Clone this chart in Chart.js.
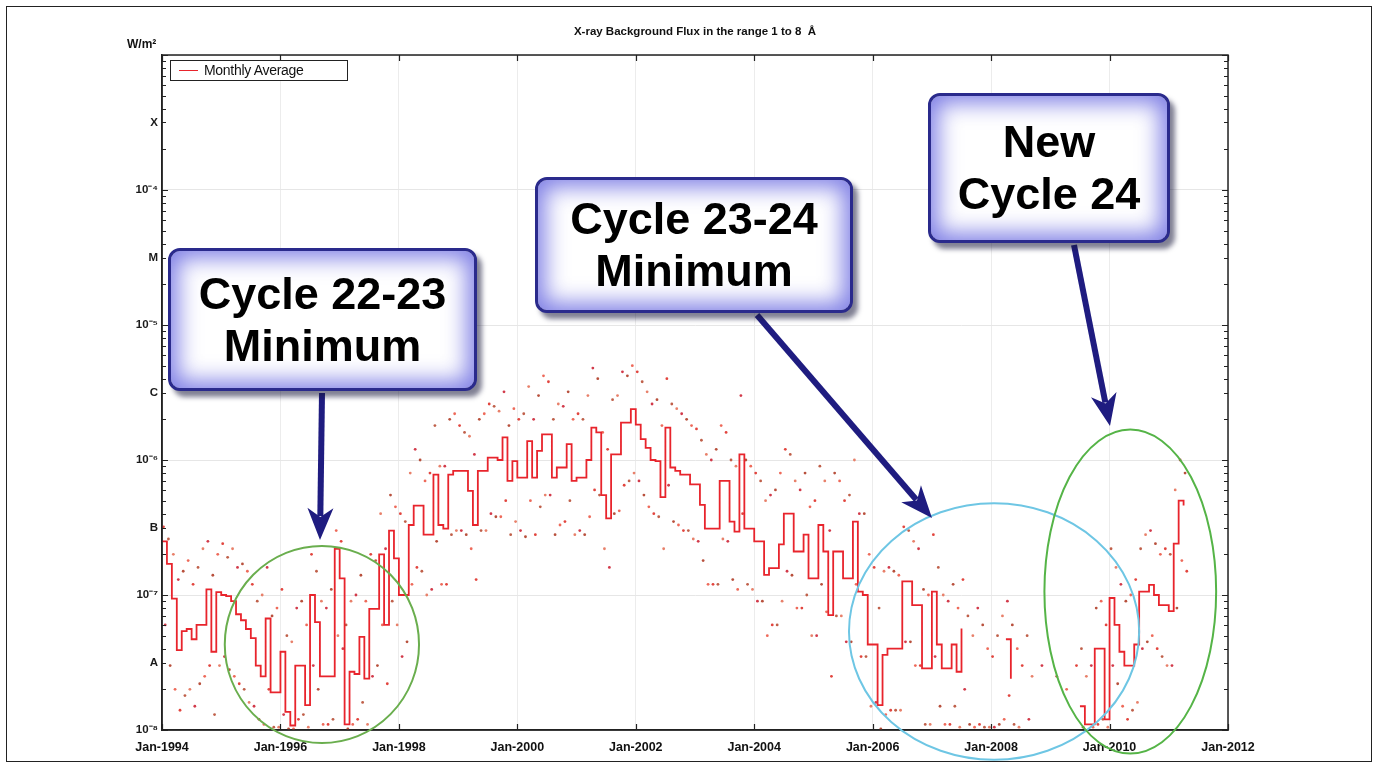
<!DOCTYPE html>
<html>
<head>
<meta charset="utf-8">
<script src="https://cdn.jsdelivr.net/npm/chart.js@4.4.1/dist/chart.umd.min.js"></script>
<style>
  html, body { margin: 0; padding: 0; background: #fff; }
  #wrap { position: relative; width: 1380px; height: 770px; overflow: hidden; font-family: "Liberation Sans", Arial, sans-serif; }
  #flux { position: absolute; left: 0; top: 0; }
  #frame { position: absolute; left: 6px; top: 6px; width: 1366px; height: 756px; border: 1.5px solid #222; box-sizing: border-box; pointer-events: none; }
  .title { position: absolute; left: 0; top: 25px; width: 1390px; text-align: center; font-weight: bold; font-size: 11.5px; color: #111; }
  .unit { position: absolute; left: 127px; top: 37px; font-weight: bold; font-size: 12px; color: #111; }
  .legend { position: absolute; left: 170px; top: 60px; width: 178px; height: 21px; box-sizing: border-box; border: 1.5px solid #222; background: #fff; font-size: 14px; color: #111; line-height: 18px; }
  .legend i { position: absolute; left: 8px; top: 9px; width: 19px; height: 0; border-top: 1.5px solid #e8242c; }
  .legend span { position: absolute; left: 33px; top: 0; letter-spacing: -0.3px; }
  .callout { position: absolute; box-sizing: border-box; border: 3px solid #2a2a8c; border-radius: 12px; background: #fff;
    box-shadow: inset 0 0 22px 7px rgba(105, 105, 225, 0.85), 5px 6px 5px rgba(25, 25, 60, 0.55);
    font-weight: bold; font-size: 45px; line-height: 52px; color: #000; text-align: center;
    display: flex; flex-direction: column; justify-content: center; }
</style>
</head>
<body>
<div id="wrap">
  <canvas id="flux" width="1380" height="770"></canvas>
  <div class="title">X-ray Background Flux in the range 1 to 8 &nbsp;Å</div>
  <div class="unit">W/m²</div>
  <div class="legend"><i></i><span>Monthly Average</span></div>
  <div class="callout" style="left:168px; top:248px; width:309px; height:143px;"><div>Cycle 22-23</div><div>Minimum</div></div>
  <div class="callout" style="left:535px; top:177px; width:318px; height:136px;"><div>Cycle 23-24</div><div>Minimum</div></div>
  <div class="callout" style="left:928px; top:93px; width:242px; height:150px;"><div>New</div><div>Cycle 24</div></div>
  <div id="frame"></div>
</div>
<script>
// 1-8 A background flux (W/m2), one entry per month from Jan 1994
const startYear = 1994;
const monthlyAverage = [
  // 1994
  2.5e-7, 1.7e-7, 9.4e-8, 3.9e-8, 5.4e-8, 5.6e-8, 4.7e-8, 6.0e-8, 6.0e-8, 1.1e-7, 3.8e-8, 1.05e-7,
  // 1995
  1.0e-7, 9.8e-8, 9.0e-8, 7.2e-8, 6.5e-8, 5.6e-8, 4.8e-8, 3.0e-8, 2.5e-8, 6.7e-8, 1.9e-8, 1.9e-8,
  // 1996
  3.8e-8, 1.36e-8, 1.08e-8, 3.0e-8, 3.0e-8, 1.53e-8, 1.0e-7, 6.3e-8, 2.5e-8, 2.5e-8, 2.5e-8, 2.2e-7,
  // 1997
  1.33e-7, 1.1e-8, 2.7e-8, 2.6e-8, 4.9e-8, 2.4e-8, 7.9e-8, 7.9e-8, 2.0e-7, 6.0e-8, 3.0e-7, 1.87e-7,
  // 1998
  1.0e-7, 1.0e-7, 3.3e-7, 4.6e-7, 4.6e-7, 2.8e-7, 2.8e-7, 7.8e-7, 3.3e-7, 3.1e-7, 7.8e-7, 8.3e-7,
  // 1999
  8.3e-7, 8.3e-7, 5.9e-7, 3.3e-7, 8.3e-7, 8.3e-7, 1.04e-6, 1.04e-6, 1.0e-6, 1.47e-6, 7.0e-7, 9.8e-7,
  // 2000
  7.4e-7, 7.4e-7, 1.38e-6, 7.4e-7, 1.17e-6, 1.55e-6, 1.55e-6, 7.4e-7, 8.8e-7, 8.8e-7, 1.31e-6, 7.0e-7,
  // 2001
  7.4e-7, 7.4e-7, 1.0e-6, 1.74e-6, 1.6e-6, 5.5e-7, 3.7e-7, 1.1e-6, 1.1e-6, 1.89e-6, 1.89e-6, 2.38e-6,
  // 2002
  1.83e-6, 1.43e-6, 1.23e-6, 1.0e-6, 9.8e-7, 5.3e-7, 1.74e-6, 8.8e-7, 8.3e-7, 7.8e-7, 7.8e-7, 6.6e-7,
  // 2003
  6.6e-7, 4.65e-7, 3.1e-7, 3.1e-7, 3.1e-7, 7.0e-7, 7.0e-7, 3.5e-7, 2.95e-7, 1.1e-6, 3.1e-7, 3.1e-7,
  // 2004
  2.5e-7, 2.5e-7, 1.41e-7, 1.58e-7, 1.58e-7, 2.37e-7, 4.0e-7, 4.0e-7, 2.1e-7, 2.1e-7, 2.8e-7, 1.33e-7,
  // 2005
  1.33e-7, 3.3e-7, 2.1e-7, 7.1e-8, 2.1e-7, 2.1e-7, 1.33e-7, 1.33e-7, 3.5e-7, 1.06e-7, 1.0e-7, 4.3e-8,
  // 2006
  4.3e-8, 1.53e-8, 3.6e-8, 4.0e-8, 4.0e-8, 4.0e-8, 1.26e-7, 1.26e-7, 8.4e-8, 8.4e-8, 2.86e-8, 2.86e-8,
  // 2007
  1.06e-7, 4.3e-8, 2.86e-8, 2.86e-8, 4.3e-8, 2.7e-8, 5.65e-8, null, null, null, null, null,
  // 2008
  null, null, null, 4.7e-8, 2.4e-8, null, null, null, null, null, null, null,
  // 2009
  null, null, null, null, null, null, 1.5e-8, 1.1e-8, 1.1e-8, 4.0e-8, 4.0e-8, 1.2e-8,
  // 2010
  9.5e-8, 6.0e-8, 3.8e-8, 3.0e-8, 3.0e-8, 4.3e-8, 1.06e-7, 1.06e-7, 1.19e-7, 1.0e-7, 8.4e-8, 8.4e-8,
  // 2011
  7.6e-8, 2.4e-7, 5.0e-7, 4.6e-7
];

// upper and lower edge of the daily values in each month
const dailyHigh = [
  3.2e-7, 2.6e-7, 2.0e-7, 1.3e-7, 1.5e-7, 1.8e-7, 1.2e-7, 1.6e-7, 2.2e-7, 2.5e-7, 1.4e-7, 2.0e-7,
  2.4e-7, 1.9e-7, 2.2e-7, 1.6e-7, 1.7e-7, 1.5e-7, 1.2e-7, 9.0e-8, 1.0e-7, 1.6e-7, 7.0e-8, 8.0e-8,
  1.1e-7, 5.0e-8, 4.5e-8, 8.0e-8, 9.0e-8, 6.0e-8, 2.0e-7, 1.5e-7, 9.0e-8, 8.0e-8, 1.1e-7, 3.0e-7,
  2.5e-7, 6.0e-8, 9.0e-8, 1.0e-7, 1.4e-7, 9.0e-8, 2.0e-7, 1.8e-7, 4.0e-7, 2.2e-7, 5.5e-7, 4.5e-7,
  4.0e-7, 3.5e-7, 8.0e-7, 1.2e-6, 1.0e-6, 7.0e-7, 8.0e-7, 1.8e-6, 9.0e-7, 9.0e-7, 2.0e-6, 2.2e-6,
  1.8e-6, 1.6e-6, 1.5e-6, 1.1e-6, 2.0e-6, 2.2e-6, 2.6e-6, 2.5e-6, 2.3e-6, 3.2e-6, 1.8e-6, 2.4e-6,
  2.0e-6, 2.2e-6, 3.5e-6, 2.0e-6, 3.0e-6, 4.2e-6, 3.8e-6, 2.0e-6, 2.6e-6, 2.5e-6, 3.2e-6, 2.0e-6,
  2.2e-6, 2.0e-6, 3.0e-6, 4.8e-6, 4.0e-6, 1.6e-6, 1.2e-6, 2.8e-6, 3.0e-6, 4.5e-6, 4.2e-6, 5.0e-6,
  4.5e-6, 3.8e-6, 3.2e-6, 2.6e-6, 2.8e-6, 1.8e-6, 4.0e-6, 2.6e-6, 2.4e-6, 2.2e-6, 2.0e-6, 1.8e-6,
  1.7e-6, 1.4e-6, 1.1e-6, 1.0e-6, 1.2e-6, 1.8e-6, 1.6e-6, 1.0e-6, 9.0e-7, 3.0e-6, 1.0e-6, 9.0e-7,
  8.0e-7, 7.0e-7, 5.0e-7, 5.5e-7, 6.0e-7, 8.0e-7, 1.2e-6, 1.1e-6, 7.0e-7, 6.0e-7, 8.0e-7, 4.5e-7,
  5.0e-7, 9.0e-7, 7.0e-7, 3.0e-7, 8.0e-7, 7.0e-7, 5.0e-7, 5.5e-7, 1.0e-6, 4.0e-7, 4.0e-7, 2.0e-7,
  1.6e-7, 8.0e-8, 1.5e-7, 1.6e-7, 1.5e-7, 1.4e-7, 3.2e-7, 3.0e-7, 2.5e-7, 2.2e-7, 1.1e-7, 1.0e-7,
  2.8e-7, 1.6e-7, 1.0e-7, 9.0e-8, 1.2e-7, 8.0e-8, 1.3e-7, 7.0e-8, 5.0e-8, 8.0e-8, 6.0e-8, 4.0e-8,
  3.5e-8, 5.0e-8, 7.0e-8, 9.0e-8, 6.0e-8, 4.0e-8, 3.0e-8, 5.0e-8, 2.5e-8, null, 3.0e-8, null,
  null, 2.5e-8, null, 2.0e-8, null, 3.0e-8, 4.0e-8, 2.5e-8, 3.0e-8, 8.0e-8, 9.0e-8, 6.0e-8,
  2.2e-7, 1.6e-7, 1.2e-7, 9.0e-8, 1.0e-7, 1.3e-7, 2.2e-7, 2.8e-7, 3.0e-7, 2.4e-7, 2.0e-7, 2.2e-7,
  2.0e-7, 6.0e-7, 1.0e-6, 8.0e-7
];
const dailyLow = [
  6.0e-8, 3.0e-8, 2.0e-8, 1.4e-8, 1.8e-8, 2.0e-8, 1.5e-8, 2.2e-8, 2.5e-8, 3.0e-8, 1.3e-8, 3.0e-8,
  3.5e-8, 2.8e-8, 2.5e-8, 2.2e-8, 2.0e-8, 1.6e-8, 1.5e-8, 1.2e-8, 1.1e-8, 2.0e-8, 1.05e-8, 1.05e-8,
  1.3e-8, 1.02e-8, 1.02e-8, 1.2e-8, 1.3e-8, 1.05e-8, 3.0e-8, 2.0e-8, 1.1e-8, 1.1e-8, 1.2e-8, 5.0e-8,
  4.0e-8, 1.02e-8, 1.1e-8, 1.2e-8, 1.6e-8, 1.1e-8, 2.5e-8, 3.0e-8, 6.0e-8, 2.2e-8, 9.0e-8, 6.0e-8,
  3.5e-8, 4.5e-8, 1.2e-7, 1.6e-7, 1.5e-7, 1.0e-7, 1.1e-7, 2.5e-7, 1.2e-7, 1.2e-7, 2.8e-7, 3.0e-7,
  3.0e-7, 2.8e-7, 2.2e-7, 1.3e-7, 3.0e-7, 3.0e-7, 4.0e-7, 3.8e-7, 3.8e-7, 5.0e-7, 2.8e-7, 3.5e-7,
  3.0e-7, 2.7e-7, 5.0e-7, 2.8e-7, 4.5e-7, 5.5e-7, 5.5e-7, 2.8e-7, 3.3e-7, 3.5e-7, 5.0e-7, 2.8e-7,
  3.0e-7, 2.8e-7, 3.8e-7, 6.0e-7, 5.5e-7, 2.2e-7, 1.6e-7, 4.0e-7, 4.2e-7, 6.5e-7, 7.0e-7, 8.0e-7,
  7.0e-7, 5.5e-7, 4.5e-7, 4.0e-7, 3.8e-7, 2.2e-7, 6.5e-7, 3.5e-7, 3.3e-7, 3.0e-7, 3.0e-7, 2.6e-7,
  2.5e-7, 1.8e-7, 1.2e-7, 1.2e-7, 1.2e-7, 2.6e-7, 2.5e-7, 1.3e-7, 1.1e-7, 4.0e-7, 1.2e-7, 1.1e-7,
  9.0e-8, 9.0e-8, 5.0e-8, 6.0e-8, 6.0e-8, 9.0e-8, 1.5e-7, 1.4e-7, 8.0e-8, 8.0e-8, 1.0e-7, 5.0e-8,
  5.0e-8, 1.2e-7, 7.5e-8, 2.5e-8, 7.0e-8, 7.0e-8, 4.5e-8, 4.5e-8, 1.2e-7, 3.5e-8, 3.5e-8, 1.5e-8,
  1.6e-8, 1.02e-8, 1.3e-8, 1.4e-8, 1.4e-8, 1.4e-8, 4.5e-8, 4.5e-8, 3.0e-8, 3.0e-8, 1.1e-8, 1.1e-8,
  3.5e-8, 1.5e-8, 1.1e-8, 1.1e-8, 1.5e-8, 1.05e-8, 2.0e-8, 1.1e-8, 1.05e-8, 1.1e-8, 1.05e-8, 1.05e-8,
  1.05e-8, 1.1e-8, 1.2e-8, 1.8e-8, 1.1e-8, 1.05e-8, null, 1.2e-8, null, null, null, null,
  null, null, null, null, null, null, 1.05e-8, null, 1.05e-8, 1.1e-8, 1.2e-8, 1.05e-8,
  3.0e-8, 2.2e-8, 1.5e-8, 1.2e-8, 1.4e-8, 1.6e-8, 4.0e-8, 4.5e-8, 5.0e-8, 4.0e-8, 3.5e-8, 3.0e-8,
  3.0e-8, 8.0e-8, 1.8e-7, 1.5e-7
];

const xTickYears = [1994, 1996, 1998, 2000, 2002, 2004, 2006, 2008, 2010, 2012];
const decadeExponents = [-8, -7, -6, -5, -4, -3];
const decadeLabels = ['10⁻⁸', '10⁻⁷', '10⁻⁶', '10⁻⁵', '10⁻⁴', ''];
const classLabels = ['A', 'B', 'C', 'M', 'X'];   // flare classes, placed mid-decade

// highlighted regions: centre (year, flux), radius in years and in decades
const rings = [
  { year: 1996.70, flux: 4.3e-8, rYears: 1.64, rDecades: 0.73, color: '#6aae4e' },
  { year: 2008.05, flux: 5.36e-8, rYears: 2.45, rDecades: 0.95, color: '#6ec6e4' },
  { year: 2010.35, flux: 1.06e-7, rYears: 1.45, rDecades: 1.2, color: '#55b447' }
];

// arrows from the callout boxes (page pixels)
const arrows = [
  [[322, 393], [320, 540]],
  [[757, 315], [932, 518]],
  [[1074, 245], [1110, 426]]
];

const dotColors = ['#e2453e', '#c0604a', '#e8806a', '#d23a4a', '#b8503c', '#ee6a5a'];

const frameTicks = {
  id: 'frameTicks',
  afterDraw(chart) {
    const { ctx, chartArea: a, scales: { x, y } } = chart;
    ctx.save();
    ctx.strokeStyle = '#222';
    ctx.lineWidth = 1.5;
    ctx.strokeRect(a.left, a.top, a.right - a.left, a.bottom - a.top);
    ctx.lineWidth = 1.2;
    ctx.beginPath();
    y.ticks.forEach(t => {
      const py = Math.round(y.getPixelForValue(t.value)) + 0.5;
      const len = t.grid ? 6 : 4;
      ctx.moveTo(a.left, py); ctx.lineTo(a.left + len, py);
      ctx.moveTo(a.right, py); ctx.lineTo(a.right - len, py);
    });
    x.ticks.forEach(t => {
      const px = Math.round(x.getPixelForValue(t.value)) + 0.5;
      ctx.moveTo(px, a.bottom); ctx.lineTo(px, a.bottom - 6);
      ctx.moveTo(px, a.top); ctx.lineTo(px, a.top + 6);
    });
    ctx.stroke();

    // rings
    ctx.lineWidth = 2;
    rings.forEach(r => {
      const cx = x.getPixelForValue(r.year);
      const cy = y.getPixelForValue(r.flux);
      const rx = x.getPixelForValue(r.year + r.rYears) - cx;
      const ry = cy - y.getPixelForValue(r.flux * Math.pow(10, r.rDecades));
      ctx.strokeStyle = r.color;
      ctx.beginPath();
      ctx.ellipse(cx, cy, rx, ry, 0, 0, Math.PI * 2);
      ctx.stroke();
    });

    // arrows
    ctx.fillStyle = ctx.strokeStyle = '#1f1c80';
    arrows.forEach(([p0, p1]) => {
      const ang = Math.atan2(p1[1] - p0[1], p1[0] - p0[0]);
      const head = 32, half = 13;
      const bx = p1[0] - Math.cos(ang) * head, by = p1[1] - Math.sin(ang) * head;
      ctx.lineWidth = 6;
      ctx.beginPath();
      ctx.moveTo(p0[0], p0[1]);
      ctx.lineTo(bx + Math.cos(ang) * 8, by + Math.sin(ang) * 8);
      ctx.stroke();
      const nx = -Math.sin(ang), ny = Math.cos(ang);
      ctx.beginPath();
      ctx.moveTo(p1[0], p1[1]);
      ctx.lineTo(bx + nx * half, by + ny * half);
      ctx.lineTo(bx + Math.cos(ang) * 9, by + Math.sin(ang) * 9);
      ctx.lineTo(bx - nx * half, by - ny * half);
      ctx.closePath();
      ctx.fill();
    });
    ctx.restore();
  }
};

const monthX = i => startYear + i / 12;
const dots = (list, offset) => list
  .map((v, i) => ({ x: monthX(i) + offset, y: v }))
  .filter(p => p.y !== null);

new Chart(document.getElementById('flux'), {
  type: 'line',
  data: {
    datasets: [{
      label: 'Monthly Average',
      data: monthlyAverage.map((v, i) => ({ x: monthX(i), y: v })),
      borderColor: '#e8242c',
      borderWidth: 1.8,
      pointRadius: 0,
      stepped: true,
      spanGaps: false,
      fill: false
    }, {
      type: 'scatter',
      label: 'Daily high',
      data: dots(dailyHigh, 0.3 / 12),
      pointRadius: 1.4,
      borderWidth: 0,
      backgroundColor: c => dotColors[c.dataIndex % dotColors.length]
    }, {
      type: 'scatter',
      label: 'Daily low',
      data: dots(dailyLow, 0.65 / 12),
      pointRadius: 1.4,
      borderWidth: 0,
      backgroundColor: c => dotColors[(c.dataIndex + 3) % dotColors.length]
    }]
  },
  options: {
    responsive: false,
    animation: false,
    layout: { padding: { left: 0, top: 55, right: 152, bottom: 0 } },
    plugins: { legend: { display: false }, title: { display: false }, tooltip: { enabled: false } },
    scales: {
      x: {
        type: 'linear',
        min: 1994,
        max: 2012,
        afterBuildTicks: s => { s.ticks = xTickYears.map(v => ({ value: v })); },
        afterFit: s => { s.height = 40; },
        ticks: {
          autoSkip: false, maxRotation: 0, padding: 10, color: '#111',
          font: { family: '"Liberation Sans", Arial', size: 12.5, weight: 'bold' },
          callback: v => 'Jan-' + v
        },
        grid: { color: '#ececec', drawTicks: false },
        border: { color: '#222', width: 1.5 }
      },
      y: {
        type: 'logarithmic',
        min: 1e-8,
        max: 1e-3,
        afterBuildTicks: s => {
          const ticks = [];
          decadeExponents.forEach((e, i) => {
            const base = Math.pow(10, e);
            ticks.push({ value: base, lab: decadeLabels[i], grid: true });
            if (i < classLabels.length) {
              [2, 4, 5, 6, 7, 8, 9].forEach(m => ticks.push({ value: m * base, lab: '' }));
              ticks.push({ value: Math.sqrt(10) * base, lab: classLabels[i] });
            }
          });
          ticks.sort((a, b) => a.value - b.value);
          s.ticks = ticks;
        },
        afterFit: s => { s.width = 162; },
        ticks: {
          autoSkip: false, padding: 4, color: '#1a1a1a',
          font: { family: '"Liberation Sans", Arial', size: 11.5, weight: 'bold' },
          callback: (v, i, ticks) => ticks[i].lab || ''
        },
        grid: {
          drawTicks: false,
          color: c => (c.tick && c.tick.grid) ? '#e6e6e6' : 'rgba(0,0,0,0)'
        },
        border: { color: '#222', width: 1.5 }
      }
    }
  },
  plugins: [frameTicks]
});
</script>
</body>
</html>
